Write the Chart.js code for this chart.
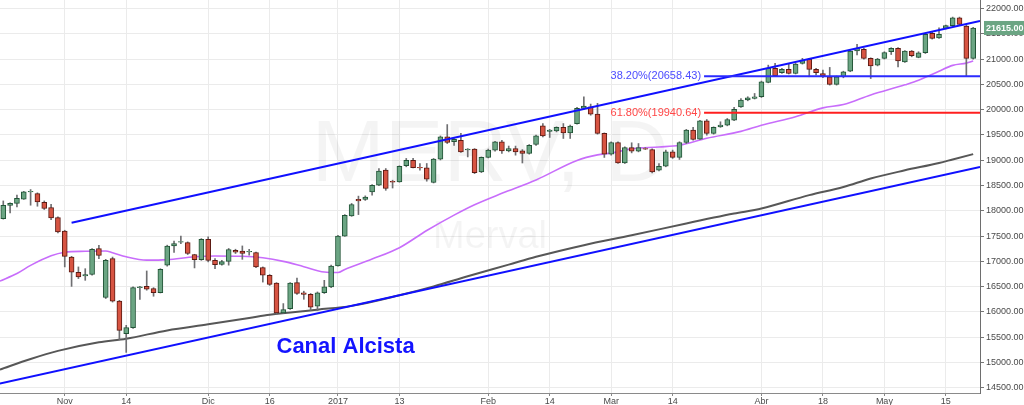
<!DOCTYPE html>
<html>
<head>
<meta charset="utf-8">
<script src="https://cdn.jsdelivr.net/npm/chart.js@4.4.0/dist/chart.umd.min.js"></script>
<style>
  html, body { margin: 0; padding: 0; background: #fff; }
  #wrap { position: relative; width: 1024px; height: 405px; }
</style>
</head>
<body>
<div id="wrap"><canvas id="chart"></canvas></div>
<script>
// daily candles, index 0 = late Oct 2016, last = 17 May 2017
const opens = [17845,18105,18145,18230,18375,18340,18165,18065,17865,17600,17085,16785,16710,16740,17255,16285,17055,16215,15570,15690,
  16480,16505,16460,16380,16925,17305,17380,17370,17135,17035,17435,17020,16940,17000,17220,17205,17185,17175,16875,16725,
  16570,15980,16065,16580,16380,16350,16115,16380,16495,16910,17500,17900,18225,18225,18375,18505,18805,18580,18570,18890,
  19000,18860,18850,18560,19020,19460,19365,19395,19205,19220,18770,19055,19200,19365,19185,19230,19185,19135,19310,19680,
  19570,19580,19650,19540,19725,20025,20055,19910,19530,19120,19350,18945,19250,19180,19230,19210,18805,18880,19165,19055,
  19350,19595,19415,19780,19530,19660,19695,19790,20055,20190,20220,20255,20540,20815,20730,20795,20715,20915,20995,20795,
  20715,20650,20500,20650,20760,21160,21195,21015,20880,21015,21145,21210,20945,21160,21035,21125,21510,21420,21605,21660,
  21815,21650,21015];
const highs = [18195,18155,18310,18385,18420,18355,18195,18130,17880,17615,17100,16890,16855,17255,17315,17040,17085,16230,15735,16495,
  16505,16810,16480,16855,17320,17400,17500,17385,17140,17450,17485,17055,17020,17255,17240,17305,17240,17185,16890,16740,
  16580,16165,16580,16670,16410,16365,16395,16625,16925,17515,17925,18145,18290,18295,18520,18835,18835,18605,18890,19035,
  19035,18935,18935,19035,19480,19705,19430,19530,19230,19230,19065,19220,19375,19395,19280,19280,19210,19310,19495,19725,
  19610,19660,19725,19695,20045,20255,20110,20125,19540,19365,19365,19265,19345,19330,19250,19225,18935,19200,19200,19365,
  19610,19650,19790,19805,19660,19760,19825,20045,20220,20255,20320,20565,20880,20915,20815,20915,20915,21015,21015,20815,
  20780,20835,20665,20760,21180,21290,21210,21025,21015,21145,21225,21225,21170,21170,21145,21500,21530,21620,21670,21830,
  21830,21670,21630];
const lows = [17835,17960,18075,18225,18110,18090,18025,17825,17560,16890,16505,16660,16625,16725,17055,16265,16195,15450,15200,15675,
  16245,16430,16310,16375,16905,17175,17350,17135,16870,17020,16990,16855,16925,16925,17155,17040,17120,16875,16590,16525,
  15955,15975,16050,16345,16250,16030,16030,16365,16480,16905,17495,17890,17925,18205,18310,18495,18405,18450,18565,18870,
  18850,18805,18585,18550,19005,19330,19295,19155,19065,18735,18755,19045,19180,19135,19165,19100,18945,19120,19295,19460,
  19450,19560,19430,19430,19715,20010,19890,19515,19055,19100,18935,18935,19145,19165,19210,18750,18790,18870,19035,19015,
  19330,19395,19410,19495,19515,19650,19680,19780,20045,20175,20210,20240,20530,20650,20715,20705,20705,20900,20650,20685,
  20630,20485,20485,20630,20750,21080,21000,20615,20865,21000,21090,20845,20935,21045,21025,21110,21395,21410,21595,21650,
  21670,20670,21000];
const closes = [18110,18145,18245,18375,18385,18175,18045,17860,17580,17100,16785,16690,16740,17240,17115,17020,16215,15635,15690,16480,
  16495,16450,16380,16840,17300,17350,17390,17155,17035,17435,17020,16935,16995,17235,17180,17155,17200,16890,16725,16545,
  15980,16045,16570,16365,16345,16095,16380,16495,16905,17500,17910,18125,18195,18270,18505,18785,18440,18565,18880,19000,
  18855,18850,18625,19020,19460,19350,19415,19165,19220,18755,19055,19200,19365,19185,19230,19165,19135,19295,19480,19480,
  19595,19650,19540,19675,20025,20070,19910,19530,19120,19350,18945,19250,19180,19250,19220,18770,18880,19165,19055,19350,
  19595,19410,19780,19530,19650,19695,19805,20005,20190,20235,20255,20550,20815,20670,20795,20715,20900,20980,20795,20730,
  20665,20500,20650,20750,21160,21210,21015,20865,21000,21130,21210,20965,21160,21065,21125,21490,21410,21490,21660,21815,
  21685,21015,21615];

// moving averages (bar index / value)
const maFastX = [-0.5,2,4,7,9,12,15,16,18,21,24,28,31,35,38,41,44,47,49,50,54,58,62,66,69,73,78,84,87,89,92,96,99,103,108,111,116,120,123,127,132,134,137,139,141,142];
const maFastY = [16610,16760,16920,17110,17180,17200,17205,17170,17090,17025,17035,17090,17105,17100,17070,17000,16895,16790,16780,16840,
  17045,17270,17610,17915,18120,18345,18610,18995,19105,19140,19225,19262,19297,19435,19570,19693,19860,20035,20100,20290,20490,20580,20760,20875,20920,20960];
const maSlowX = [-0.5,4,8,14,18,24,30,36,39,46,51,58,63,68,74,78,85,92,100,107,111,118,123,127,132,137,139,142];
const maSlowY = [14860,15070,15230,15400,15470,15635,15755,15880,15945,16045,16120,16330,16505,16705,16935,17090,17320,17515,17750,17945,
  18045,18310,18470,18640,18800,18945,19015,19120];

// drawn channel and retracement levels
const chanUpX = [10, 143];
const chanUpY = [17764, 21754];
const chanLoX = [-0.5, 143];
const chanLoY = [14582, 18864];
const fibX = [102.6, 143];
const fib382 = 20658.43;
const fib618 = 19940.64;
const lastPrice = 21615;

const tickIdx = [9, 18, 30, 39, 49, 58, 71, 80, 89, 98, 111, 120, 129, 138];
const tickLbl = ['Nov', '14', 'Dic', '16', '2017', '13', 'Feb', '14', 'Mar', '14', 'Abr', '18', 'May', '15'];
const yTicks = [14500, 15000, 15500, 16000, 16500, 17000, 17500, 18000, 18500, 19000, 19500, 20000, 20500, 21000, 21500, 22000];

const FONT = '"Liberation Sans", Arial, sans-serif';
const UP = '#6ba583', DOWN = '#d75442';

const pts = (xs, ys) => xs.map((x, i) => ({ x: x, y: ys[i] }));
const up = closes.map((c, i) => c >= opens[i]);

const overlay = {
  id: 'overlay',
  beforeDatasetsDraw(chart) {
    const { ctx, chartArea: a } = chart;
    ctx.save();
    ctx.fillStyle = 'rgba(0,0,0,0.045)';
    ctx.textAlign = 'center';
    ctx.textBaseline = 'middle';
    const cx = (a.left + a.right) / 2;
    ctx.font = '88px ' + FONT;
    ctx.fillText('MERV, D', cx, a.top + a.height * 0.40);
    ctx.font = '38px ' + FONT;
    ctx.fillText('Merval', cx, a.top + a.height * 0.605);
    ctx.restore();
  },
  afterDatasetsDraw(chart) {
    const { ctx } = chart;
    const xs = chart.scales.x, ys = chart.scales.y;
    ctx.save();
    ctx.font = '11px ' + FONT;
    ctx.textAlign = 'right';
    ctx.textBaseline = 'middle';
    const tx = xs.getPixelForValue(fibX[0]) - 3;
    ctx.fillStyle = '#4b4bff';
    ctx.fillText('38.20%(' + fib382.toFixed(2) + ')', tx, ys.getPixelForValue(fib382));
    ctx.fillStyle = '#ff4646';
    ctx.fillText('61.80%(' + fib618.toFixed(2) + ')', tx, ys.getPixelForValue(fib618));

    ctx.font = 'bold 22px ' + FONT;
    ctx.textAlign = 'left';
    ctx.fillStyle = '#1414ff';
    ctx.fillText('Canal Alcista', xs.getPixelForValue(40), ys.getPixelForValue(15310));
    ctx.restore();
  },
  afterDraw(chart) {
    const { ctx, chartArea: a } = chart;
    const y = chart.scales.y.getPixelForValue(lastPrice);
    ctx.save();
    ctx.fillStyle = UP;
    ctx.fillRect(a.right + 4, y - 7, chart.width - a.right - 4, 14);
    ctx.fillStyle = '#fff';
    ctx.font = 'bold 9px ' + FONT;
    ctx.textAlign = 'left';
    ctx.textBaseline = 'middle';
    ctx.fillText(lastPrice.toFixed(2), a.right + 6, y + 0.5);
    ctx.restore();
  }
};

new Chart(document.getElementById('chart'), {
  type: 'bar',
  data: {
    datasets: [
      {
        type: 'line', data: pts(fibX, [fib382, fib382]), borderColor: '#2b2bff', borderWidth: 2,
        pointRadius: 0, order: 0
      },
      {
        type: 'line', data: pts(fibX, [fib618, fib618]), borderColor: '#ff1f1f', borderWidth: 2,
        pointRadius: 0, order: 0
      },
      {
        type: 'line', data: pts(chanUpX, chanUpY), borderColor: '#1010ff', borderWidth: 2,
        pointRadius: 0, order: 1
      },
      {
        type: 'line', data: pts(chanLoX, chanLoY), borderColor: '#1010ff', borderWidth: 2,
        pointRadius: 0, order: 1
      },
      {
        data: opens.map((o, i) => ({ x: i, y: [o, closes[i]] })),
        backgroundColor: up.map(u => u ? UP : DOWN),
        borderColor: up.map(u => u ? '#225437' : '#5b1a13'),
        borderWidth: 1, borderSkipped: false, barThickness: 5, grouped: false, order: 2
      },
      {
        data: lows.map((l, i) => ({ x: i, y: [l, highs[i]] })),
        backgroundColor: '#6f6f72', borderWidth: 0, barThickness: 1, grouped: false, order: 3
      },
      {
        type: 'line', data: pts(maFastX, maFastY), borderColor: '#c86dfb', borderWidth: 1.6,
        pointRadius: 0, cubicInterpolationMode: 'monotone', order: 4
      },
      {
        type: 'line', data: pts(maSlowX, maSlowY), borderColor: '#575757', borderWidth: 2,
        pointRadius: 0, cubicInterpolationMode: 'monotone', order: 4
      }
    ]
  },
  options: {
    responsive: true,
    maintainAspectRatio: false,
    animation: false,
    layout: { padding: 0 },
    plugins: { legend: { display: false }, tooltip: { enabled: false } },
    scales: {
      x: {
        type: 'linear',
        min: -0.48,
        max: 143.0,
        offset: false,
        grid: { color: '#ebebeb', offset: false, tickColor: '#888', tickLength: 3 },
        border: { color: '#8a8a8a' },
        afterBuildTicks: s => { s.ticks = tickIdx.map(v => ({ value: v })); },
        afterFit: s => { s.height = 12; s.paddingLeft = 0; s.paddingRight = 0; },
        ticks: {
          autoSkip: false, maxRotation: 0, padding: 0,
          color: '#4a4a4a', font: { family: FONT, size: 9 },
          callback: (v, i) => tickLbl[i]
        }
      },
      y: {
        position: 'right',
        min: 14397,
        max: 22168,
        grid: { color: '#ebebeb', tickColor: '#777', tickLength: 4 },
        border: { color: '#6e6e6e' },
        afterBuildTicks: s => { s.ticks = yTicks.map(v => ({ value: v })); },
        afterFit: s => { s.width = 44; s.paddingTop = 0; s.paddingBottom = 0; },
        ticks: {
          autoSkip: false, padding: 2,
          color: '#4a4a4a', font: { family: FONT, size: 9 },
          callback: v => v.toFixed(2)
        }
      }
    }
  },
  plugins: [overlay]
});
</script>
</body>
</html>
